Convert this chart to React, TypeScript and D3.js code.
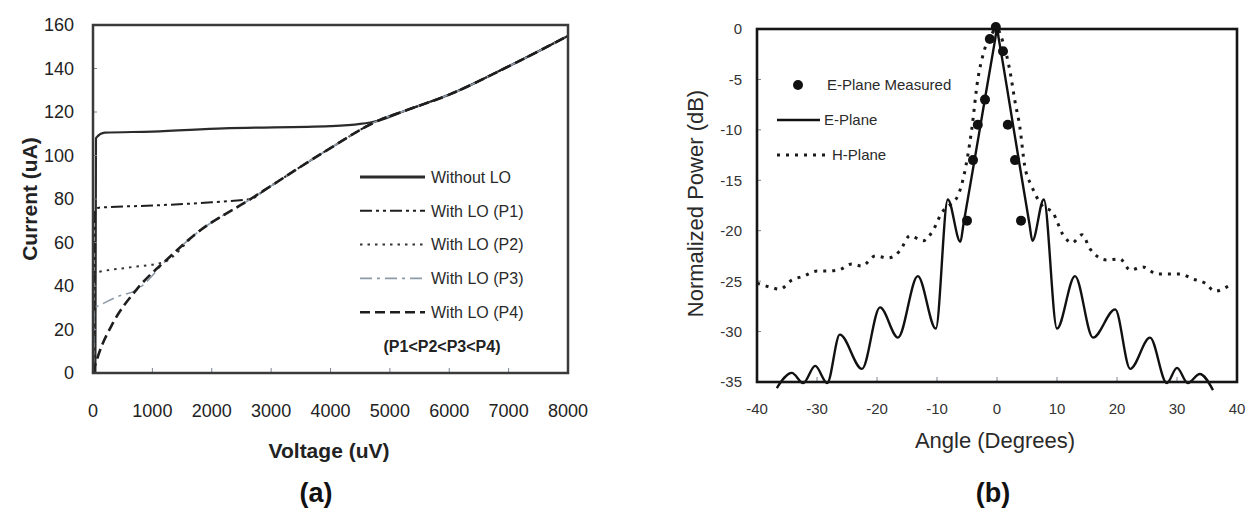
import React from 'react';
import * as d3 from 'd3';

type Pt = [number, number];

// ---------- Panel (a): I–V curves, voltage in uV, current in uA ----------
const withoutLO: Pt[] = [
  [40, 0], [50, 108], [200, 110.5], [1000, 111], [2200, 112.5], [4000, 113.5],
  [4500, 114.5], [4800, 116], [5300, 121], [6000, 128], [7000, 141], [8000, 155],
];
const withLOP1: Pt[] = [
  [20, 0], [30, 75], [100, 76], [1000, 77], [2000, 78.5], [2655, 80], [2900, 84.3],
  [3916, 102], [4800, 116], [5300, 121], [6000, 128], [7000, 141], [8000, 155],
];
const withLOP2: Pt[] = [
  [15, 0], [25, 46], [100, 46.5], [600, 48.5], [1193, 51], [1731, 64],
  [2655, 80], [2900, 84.3], [3916, 102], [4800, 116], [5300, 121], [6000, 128],
  [7000, 141], [8000, 155],
];
const withLOP3: Pt[] = [
  [10, 0], [20, 30], [100, 31], [400, 35], [723, 38], [1277, 53], [1731, 64],
  [2655, 80], [2900, 84.3], [3916, 102], [4800, 116], [5300, 121], [6000, 128],
  [7000, 141], [8000, 155],
];
const withLOP4: Pt[] = [
  [0, 0], [30, 3], [100, 9], [336, 23], [723, 38], [1277, 53], [1731, 64],
  [2655, 80], [2900, 84.3], [3916, 102], [4800, 116], [5300, 121], [6000, 128],
  [7000, 141], [8000, 155],
];
const ivLabels = ['Without LO', 'With LO (P1)', 'With LO (P2)', 'With LO (P3)', 'With LO (P4)'];
const voltageTicks = [0, 1000, 2000, 3000, 4000, 5000, 6000, 7000, 8000];
const currentTicks = [0, 20, 40, 60, 80, 100, 120, 140, 160];

// ---------- Panel (b): radiation patterns, angle in degrees, power in dB ----------
const ePlane: Pt[] = [
  [-36.7, -35.6], [-34.2, -34.1], [-32.3, -35.1], [-30.3, -33.4], [-28.3, -35.1],
  [-26.2, -30.3], [-22.5, -33.7], [-19.5, -27.6], [-16.5, -30.6], [-13.2, -24.5],
  [-10.2, -29.7], [-8.2, -16.9], [-6.1, -21.1], [-5.6, -19.4], [-3, -10.4],
  [-0.3, -1.0], [0, 0], [0.3, -1.0], [3, -10.7], [5.4, -19.3], [5.9, -21],
  [7.8, -16.9], [10, -29.7], [13, -24.5], [16, -30.6], [19.7, -27.8],
  [22.2, -33.7], [25.5, -30.6], [28.3, -35.1], [30, -33.6], [31.8, -35.1],
  [33.8, -34.2], [36, -35.8],
];
const hPlane: Pt[] = [
  [-40, -25.2], [-37.8, -25.6], [-36.2, -25.8], [-34.2, -24.9], [-32.2, -24.5],
  [-30, -24.0], [-28.4, -24.0], [-26.4, -23.9], [-24.2, -23.3], [-22.5, -23.5],
  [-20.3, -22.5], [-18.1, -22.7], [-16.2, -22.0], [-14.5, -20.5], [-12.3, -21.0],
  [-10.6, -19.9], [-9.2, -18.2], [-7.6, -17.3], [-6.5, -16.5], [-5.5, -14.5],
  [-4.2, -9.9], [-3.2, -5.0], [-2.3, -2.5], [-1, -0.6], [0, 0], [1, -1.3],
  [2.2, -4.3], [3, -7.2], [3.8, -9.7], [4.6, -13.5], [5.8, -15.6], [7.5, -17.5],
  [9.3, -18.2], [11, -20.4], [12.5, -21.2], [14.2, -20.4], [15.5, -21.8],
  [18.3, -22.9], [20.5, -22.8], [22.2, -23.9], [24.3, -23.6], [26.7, -24.3],
  [30.5, -24.3], [32.7, -24.8], [34.7, -25.2], [36.3, -26], [38.5, -25.5],
];
const ePlaneMeasured: Pt[] = [
  [-0.2, 0.2], [-1.2, -1], [1, -2.2], [-2, -7], [-3.2, -9.5], [1.8, -9.5],
  [-4, -13], [3, -13], [-5, -19], [4, -19],
];
const patternLabels = ['E-Plane Measured', 'E-Plane', 'H-Plane'];
const angleTicks = [-40, -30, -20, -10, 0, 10, 20, 30, 40];
const powerTicks = [0, -5, -10, -15, -20, -25, -30, -35];

const FONT = '"Liberation Sans", Arial, Helvetica, sans-serif';

// line styles for the five I–V traces
const ivStyles = [
  { stroke: '#2b2b2b', width: 2.2, dash: undefined as string | undefined },
  { stroke: '#1e1e1e', width: 2, dash: '12 4 3 4 3 4' },
  { stroke: '#333333', width: 2, dash: '2.5 5' },
  { stroke: '#8d9aa8', width: 1.6, dash: '12 5 3 5' },
  { stroke: '#1e1e1e', width: 2.6, dash: '10 5' },
];

function PanelA() {
  const x = d3.scaleLinear().domain([0, 8000]).range([93, 568]);
  const y = d3.scaleLinear().domain([0, 160]).range([373, 25]);
  const line = d3
    .line<Pt>()
    .x((d) => x(d[0]))
    .y((d) => y(d[1]))
    .curve(d3.curveMonotoneX);
  const series = [withoutLO, withLOP1, withLOP2, withLOP3, withLOP4];
  const legendX0 = 360;
  const legendX1 = 425;
  const legendY0 = 177;
  const legendStep = 33.8;

  return (
    <g fontFamily={FONT}>
      {/* plotted traces */}
      {series.map((s, i) => (
        <path
          key={i}
          d={line(s) ?? ''}
          fill="none"
          stroke={ivStyles[i].stroke}
          strokeWidth={ivStyles[i].width}
          strokeDasharray={ivStyles[i].dash}
        />
      ))}

      {/* inward ticks */}
      {currentTicks.map((t) => (
        <line key={'yt' + t} x1={x(0)} x2={x(0) + 4} y1={y(t)} y2={y(t)} stroke="#7a8590" strokeWidth={1} />
      ))}
      {voltageTicks.map((t) => (
        <line key={'xt' + t} x1={x(t)} x2={x(t)} y1={y(0)} y2={y(0) - 5} stroke="#7a8590" strokeWidth={1} />
      ))}

      {/* frame */}
      <rect
        x={x(0)}
        y={y(160)}
        width={x(8000) - x(0)}
        height={y(0) - y(160)}
        fill="none"
        stroke="#3a3a3a"
        strokeWidth={2.5}
      />

      {/* tick labels */}
      {currentTicks.map((t) => (
        <text key={'yl' + t} x={74} y={y(t)} dy="0.36em" textAnchor="end" fontSize={18} fill="#222">
          {t}
        </text>
      ))}
      {voltageTicks.map((t) => (
        <text key={'xl' + t} x={x(t)} y={417} textAnchor="middle" fontSize={18} fill="#222">
          {t}
        </text>
      ))}

      {/* axis titles */}
      <text
        transform={`translate(37,${(y(0) + y(160)) / 2}) rotate(-90)`}
        textAnchor="middle"
        fontSize={21}
        fontWeight="bold"
        fill="#222"
      >
        Current (uA)
      </text>
      <text x={329} y={458} textAnchor="middle" fontSize={21} fontWeight="bold" fill="#222">
        Voltage (uV)
      </text>
      <text x={316} y={502} textAnchor="middle" fontSize={27} fontWeight="bold" fill="#111">
        (a)
      </text>

      {/* legend */}
      {ivLabels.map((lab, i) => {
        const ly = legendY0 + i * legendStep;
        return (
          <g key={lab}>
            <line
              x1={legendX0}
              x2={legendX1}
              y1={ly}
              y2={ly}
              stroke={ivStyles[i].stroke}
              strokeWidth={i === 0 ? 3 : ivStyles[i].width}
              strokeDasharray={ivStyles[i].dash}
            />
            <text x={431} y={ly} dy="0.36em" fontSize={16} fill="#2a2a2a">
              {lab}
            </text>
          </g>
        );
      })}
      <text x={442} y={legendY0 + 5 * legendStep} dy="0.36em" textAnchor="middle" fontSize={16} fontWeight="bold" fill="#222">
        (P1&lt;P2&lt;P3&lt;P4)
      </text>
    </g>
  );
}

function PanelB() {
  const x = d3.scaleLinear().domain([-40, 40]).range([757, 1237]);
  const y = d3.scaleLinear().domain([-35, 0]).range([382, 29]);
  const smooth = d3
    .line<Pt>()
    .x((d) => x(d[0]))
    .y((d) => y(d[1]))
    .curve(d3.curveMonotoneX);

  return (
    <g fontFamily={FONT}>
      {/* inward ticks */}
      {powerTicks.map((t) => (
        <line key={'yt' + t} x1={x(-40)} x2={x(-40) + 4} y1={y(t)} y2={y(t)} stroke="#7a8590" strokeWidth={1} />
      ))}
      {angleTicks.map((t) => (
        <line key={'xt' + t} x1={x(t)} x2={x(t)} y1={y(-35)} y2={y(-35) - 5} stroke="#7a8590" strokeWidth={1} />
      ))}

      {/* H-plane (dotted) and E-plane (solid) */}
      <path d={smooth(hPlane) ?? ''} fill="none" stroke="#1a1a1a" strokeWidth={3} strokeDasharray="3 6" />
      <path d={smooth(ePlane) ?? ''} fill="none" stroke="#111" strokeWidth={2.4} />

      {/* frame */}
      <rect
        x={x(-40)}
        y={y(0)}
        width={x(40) - x(-40)}
        height={y(-35) - y(0)}
        fill="none"
        stroke="#151515"
        strokeWidth={2.6}
      />

      {/* measured points */}
      {ePlaneMeasured.map((d, i) => (
        <circle key={i} cx={x(d[0])} cy={y(d[1])} r={5} fill="#111" />
      ))}

      {/* tick labels */}
      {powerTicks.map((t) => (
        <text key={'yl' + t} x={742} y={y(t)} dy="0.36em" textAnchor="end" fontSize={15} fill="#333">
          {t}
        </text>
      ))}
      {angleTicks.map((t) => (
        <text key={'xl' + t} x={x(t)} y={414} textAnchor="middle" fontSize={15} fill="#333">
          {t}
        </text>
      ))}

      {/* axis titles */}
      <text
        transform={`translate(703,${(y(0) + y(-35)) / 2 - 2}) rotate(-90)`}
        textAnchor="middle"
        fontSize={22}
        fill="#2a2a2a"
      >
        Normalized Power (dB)
      </text>
      <text x={995} y={448} textAnchor="middle" fontSize={22} fill="#2a2a2a">
        Angle (Degrees)
      </text>
      <text x={993} y={502} textAnchor="middle" fontSize={27} fontWeight="bold" fill="#111">
        (b)
      </text>

      {/* legend */}
      <circle cx={798} cy={85} r={5} fill="#111" />
      <text x={827} y={85} dy="0.36em" fontSize={15} fill="#2a2a2a">
        {patternLabels[0]}
      </text>
      <line x1={777} x2={820} y1={120} y2={120} stroke="#111" strokeWidth={2.4} />
      <text x={824} y={120} dy="0.36em" fontSize={15} fill="#2a2a2a">
        {patternLabels[1]}
      </text>
      <line x1={777} x2={830} y1={155} y2={155} stroke="#1a1a1a" strokeWidth={3} strokeDasharray="3 6" />
      <text x={832} y={155} dy="0.36em" fontSize={15} fill="#2a2a2a">
        {patternLabels[2]}
      </text>
    </g>
  );
}

export default function App() {
  return (
    <svg
      width={1253}
      height={516}
      viewBox="0 0 1253 516"
      style={{ position: 'absolute', left: 0, top: 0, background: '#fff' }}
    >
      <rect x={0} y={0} width={1253} height={516} fill="#fff" />
      <PanelA />
      <PanelB />
    </svg>
  );
}
